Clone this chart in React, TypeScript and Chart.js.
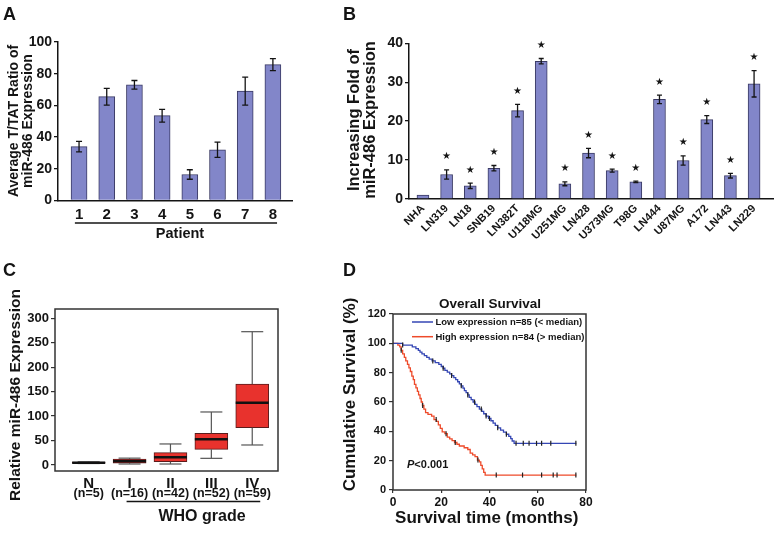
import React, { useEffect, useRef } from 'react';
import { Chart, registerables } from 'chart.js';

Chart.register(...registerables);

const FONT = "'Liberation Sans', Arial, Helvetica, sans-serif";
const INK = '#141414';
const BAR_FILL = '#8286c9';
const BAR_EDGE = '#3a3a64';
const BOX_FILL = '#e8322d';
const BOX_EDGE = '#5a1c1c';
const LOW_COLOR = '#3446b4';
const HIGH_COLOR = '#ee4a2a';

// ---------------- Panel A ----------------
const patientLabels = ['1', '2', '3', '4', '5', '6', '7', '8'];
const patientRatio = [34, 65.5, 73, 53.5, 16.4, 32, 69, 85.7];
const patientError = [3.3, 5.3, 2.7, 4.0, 3.0, 4.8, 8.8, 3.8];
const patientTicks = [0, 20, 40, 60, 80, 100];

// ---------------- Panel B ----------------
const cellLines = ['NHA', 'LN319', 'LN18', 'SNB19', 'LN382T', 'U118MG', 'U251MG', 'LN428', 'U373MG', 'T98G', 'LN444', 'U87MG', 'A172', 'LN443', 'LN229'];
const cellFold = [1.0, 6.3, 3.4, 7.9, 22.7, 35.4, 3.9, 11.8, 7.3, 4.4, 25.6, 9.9, 20.4, 6.0, 29.6];
const cellError = [0, 1.2, 0.7, 0.7, 1.6, 0.7, 0.5, 1.2, 0.4, 0.2, 1.1, 1.2, 1.0, 0.6, 3.4];
const cellSignificant = [false, true, true, true, true, true, true, true, true, true, true, true, true, true, true];
const foldTicks = [0, 10, 20, 30, 40];

// ---------------- Panel C ----------------
const gradeLabels = ['N', 'I', 'II', 'III', 'IV'];
const gradeCounts = ['(n=5)', '(n=16)', '(n=42)', '(n=52)', '(n=59)'];
const boxMin = [3, 2, 2, 13.6, 40.9];
const boxQ1 = [3.5, 3.5, 6.8, 32, 76.3];
const boxMedian = [4.7, 7.5, 15.7, 52.5, 127.4];
const boxQ3 = [6, 12.3, 25.2, 64.8, 165.6];
const boxMax = [6.5, 14, 43, 108.4, 272.6];
const expressionTicks = [0, 50, 100, 150, 200, 250, 300];

// ---------------- Panel D ----------------
const lowTime = [0, 4.0, 8.0, 9.5, 10.5, 11.2, 12.0, 13.0, 14.0, 15.0, 16.2, 17.5, 19.0, 20.0, 20.8, 21.5, 22.5, 23.5, 24.3, 25.2, 26.0, 26.8, 27.5, 28.3, 29.0, 29.6, 30.3, 31.0, 31.6, 32.4, 33.2, 34.0, 34.8, 35.8, 36.8, 37.6, 38.6, 39.6, 40.6, 41.5, 42.4, 43.4, 44.6, 45.8, 47.0, 48.0, 48.8, 49.4, 50.2, 76];
const lowSurvival = [100, 98.8, 97.6, 96.4, 95.2, 94.0, 92.8, 91.6, 90.4, 89.2, 88.0, 86.8, 85.6, 84.2, 83.0, 81.6, 80.4, 79.2, 78.0, 76.6, 75.2, 73.8, 72.4, 71.0, 69.4, 67.8, 66.4, 64.8, 63.2, 61.6, 60.0, 58.4, 56.8, 55.2, 53.6, 52.0, 50.4, 48.8, 47.2, 45.6, 44.0, 42.4, 40.8, 39.4, 38.0, 36.6, 35.0, 33.4, 31.8, 31.8];
const highTime = [0, 2.0, 2.8, 3.4, 4.0, 4.7, 5.3, 6.0, 6.6, 7.2, 7.8, 8.4, 8.9, 9.5, 10.1, 10.6, 11.2, 11.7, 12.2, 12.8, 13.5, 14.5, 16.0, 17.0, 18.0, 18.8, 19.6, 20.4, 21.5, 22.5, 23.5, 24.5, 25.5, 26.5, 27.5, 29.5, 31.0, 32.0, 33.0, 34.0, 35.0, 35.8, 36.4, 37.0, 37.6, 38.2, 76];
const highSurvival = [100, 98.8, 97.6, 95.2, 92.8, 90.4, 88.0, 85.6, 83.2, 80.8, 77.6, 75.2, 72.0, 69.6, 67.2, 64.8, 62.4, 60.0, 57.6, 55.2, 52.8, 51.6, 50.4, 48.0, 46.8, 44.4, 42.0, 39.6, 38.4, 36.0, 34.8, 33.6, 32.4, 31.2, 30.0, 28.8, 27.6, 25.2, 24.0, 22.8, 20.4, 19.2, 16.8, 14.4, 12.0, 10.2, 10.2];
const lowCensorTime = [4.0, 16.5, 20.8, 24.3, 28.3, 31.0, 33.8, 36.6, 38.6, 40.0, 43.4, 47.0, 51.0, 54.0, 56.4, 59.5, 61.6, 65.4, 75.8];
const lowCensorSurvival = [98.8, 88.0, 83.0, 78.0, 71.0, 64.8, 60.0, 55.2, 50.4, 48.8, 42.4, 38.0, 31.8, 31.8, 31.8, 31.8, 31.8, 31.8, 31.8];
const highCensorTime = [3.4, 12.3, 17.9, 22.0, 25.8, 35.2, 42.8, 53.7, 61.6, 66.4, 68.0, 75.8];
const highCensorSurvival = [95.2, 57.6, 48.0, 38.4, 32.4, 20.4, 10.2, 10.2, 10.2, 10.2, 10.2, 10.2];
const monthTicks = [0, 20, 40, 60, 80];
const survivalTicks = [0, 20, 40, 60, 80, 100, 120];

// ---------------- helpers ----------------
type TextOpts = {
  size: number;
  align?: CanvasTextAlign;
  baseline?: CanvasTextBaseline;
  rotate?: number;
  italic?: boolean;
  color?: string;
};

function drawText(ctx: CanvasRenderingContext2D, text: string, x: number, y: number, o: TextOpts) {
  ctx.save();
  ctx.translate(x, y);
  if (o.rotate) ctx.rotate(o.rotate);
  ctx.font = `${o.italic ? 'italic ' : ''}bold ${o.size}px ${FONT}`;
  ctx.fillStyle = o.color ?? INK;
  ctx.textAlign = o.align ?? 'center';
  ctx.textBaseline = o.baseline ?? 'middle';
  ctx.fillText(text, 0, 0);
  ctx.restore();
}

function line(ctx: CanvasRenderingContext2D, x1: number, y1: number, x2: number, y2: number, color: string, width: number) {
  ctx.save();
  ctx.strokeStyle = color;
  ctx.lineWidth = width;
  ctx.beginPath();
  ctx.moveTo(x1, y1);
  ctx.lineTo(x2, y2);
  ctx.stroke();
  ctx.restore();
}

const fixedTicks = (values: number[]) => (scale: any) => {
  scale.ticks = values.map((v) => ({ value: v }));
};

const boldFont = (size: number) => ({ family: FONT, size, weight: 'bold' as const });

function errorBarPlugin(values: number[], errors: number[], xOf: (i: number) => number, cap: number) {
  return {
    id: 'errorBars',
    afterDatasetsDraw(chart: any) {
      const { ctx, scales } = chart;
      const xs = scales.x;
      const ys = scales.y;
      ctx.save();
      ctx.strokeStyle = INK;
      ctx.lineWidth = 1.3;
      values.forEach((v, i) => {
        const e = errors[i];
        if (!e) return;
        const px = xs.getPixelForValue(xOf(i));
        const top = ys.getPixelForValue(v + e);
        const bot = ys.getPixelForValue(v - e);
        ctx.beginPath();
        ctx.moveTo(px, top);
        ctx.lineTo(px, bot);
        ctx.moveTo(px - cap, top);
        ctx.lineTo(px + cap, top);
        ctx.moveTo(px - cap, bot);
        ctx.lineTo(px + cap, bot);
        ctx.stroke();
      });
      ctx.restore();
    },
  };
}

const baseOptions = {
  responsive: false,
  animation: false,
  events: [] as string[],
};

// ---------------- Panel A config ----------------
function makeA(): any {
  return {
    type: 'bar',
    data: {
      datasets: [
        {
          data: patientRatio.map((v, i) => ({ x: i + 1, y: v })),
          backgroundColor: BAR_FILL,
          borderColor: BAR_EDGE,
          borderWidth: 1,
          barThickness: 16,
        },
      ],
    },
    options: {
      ...baseOptions,
      layout: { padding: { left: 0, top: 42, right: 43, bottom: 0 } },
      plugins: { legend: { display: false }, tooltip: { enabled: false } },
      scales: {
        x: {
          type: 'linear',
          min: 0.24,
          max: 8.69,
          offset: false,
          afterBuildTicks: (s: any) => {
            s.ticks = patientLabels.map((_, i) => ({ value: i + 1 }));
          },
          afterFit: (s: any) => {
            s.height = 61.5;
          },
          ticks: {
            callback: (v: number) => patientLabels[Math.round(v) - 1],
            font: boldFont(15),
            color: INK,
            padding: 5,
            maxRotation: 0,
            autoSkip: false,
          },
          grid: { display: false, drawTicks: false, tickLength: 0, offset: false },
          border: { color: INK, width: 1.5 },
        },
        y: {
          min: 0,
          max: 100,
          afterBuildTicks: fixedTicks(patientTicks),
          afterFit: (s: any) => {
            s.width = 58;
          },
          ticks: { font: boldFont(14), color: INK, padding: 2 },
          grid: { drawOnChartArea: false, tickLength: 4, color: INK, lineWidth: 1.3 },
          border: { color: INK, width: 1.5 },
        },
      },
    },
    plugins: [
      errorBarPlugin(patientRatio, patientError, (i) => i + 1, 3),
      {
        id: 'textA',
        afterDraw(chart: any) {
          const { ctx } = chart;
          const xs = chart.scales.x;
          drawText(ctx, 'A', 3, 20, { size: 18, align: 'left', baseline: 'alphabetic' });
          drawText(ctx, 'Average T/TAT Ratio of', 14, 121, { size: 14, rotate: -Math.PI / 2 });
          drawText(ctx, 'miR-486 Expression', 28, 121, { size: 14, rotate: -Math.PI / 2 });
          line(ctx, xs.getPixelForValue(0.85), 223, xs.getPixelForValue(8.15), 223, INK, 1.3);
          drawText(ctx, 'Patient', 180, 237.5, { size: 14.5, baseline: 'alphabetic' });
        },
      },
    ],
  };
}

// ---------------- Panel B config ----------------
function makeB(): any {
  return {
    type: 'bar',
    data: {
      datasets: [
        {
          data: cellFold.map((v, i) => ({ x: i, y: v })),
          backgroundColor: BAR_FILL,
          borderColor: BAR_EDGE,
          borderWidth: 1,
          barThickness: 12,
        },
      ],
    },
    options: {
      ...baseOptions,
      layout: { padding: { left: 0, top: 43.3, right: 4, bottom: 0 } },
      plugins: { legend: { display: false }, tooltip: { enabled: false } },
      scales: {
        x: {
          type: 'linear',
          min: -0.59,
          max: 14.8,
          offset: false,
          afterBuildTicks: (s: any) => {
            s.ticks = cellLines.map((_, i) => ({ value: i }));
          },
          afterFit: (s: any) => {
            s.height = 63;
          },
          ticks: {
            callback: (v: number) => cellLines[Math.round(v)],
            font: boldFont(11),
            color: INK,
            padding: 3,
            minRotation: 45,
            maxRotation: 45,
            autoSkip: false,
          },
          grid: { display: false, drawTicks: false, tickLength: 0, offset: false },
          border: { color: INK, width: 1.5 },
        },
        y: {
          min: 0,
          max: 40,
          afterBuildTicks: fixedTicks(foldTicks),
          afterFit: (s: any) => {
            s.width = 74;
          },
          ticks: { font: boldFont(14), color: INK, padding: 2 },
          grid: { drawOnChartArea: false, tickLength: 4, color: INK, lineWidth: 1.3 },
          border: { color: INK, width: 1.5 },
        },
      },
    },
    plugins: [
      errorBarPlugin(cellFold, cellError, (i) => i, 2.5),
      {
        id: 'textB',
        afterDraw(chart: any) {
          const { ctx } = chart;
          const xs = chart.scales.x;
          const ys = chart.scales.y;
          drawText(ctx, 'B', 8, 20, { size: 18, align: 'left', baseline: 'alphabetic' });
          drawText(ctx, 'Increasing Fold of', 19, 120, { size: 16.5, rotate: -Math.PI / 2 });
          drawText(ctx, 'miR-486 Expression', 35, 120, { size: 16.5, rotate: -Math.PI / 2 });
          cellFold.forEach((v, i) => {
            if (!cellSignificant[i]) return;
            const px = xs.getPixelForValue(i);
            const py = ys.getPixelForValue(v + cellError[i]) - 13;
            ctx.save();
            ctx.font = `10px 'DejaVu Sans', sans-serif`;
            ctx.fillStyle = INK;
            ctx.textAlign = 'center';
            ctx.textBaseline = 'middle';
            ctx.fillText('\u2605', px, py);
            ctx.restore();
          });
        },
      },
    ],
  };
}

// ---------------- Panel C config ----------------
function makeC(): any {
  return {
    type: 'bar',
    data: {
      datasets: [
        {
          data: gradeLabels.map((_, i) => ({ x: i, y: [boxQ1[i], boxQ3[i]] })),
          backgroundColor: BOX_FILL,
          borderColor: BOX_EDGE,
          borderWidth: 1,
          borderSkipped: false,
          barThickness: 33,
        },
      ],
    },
    options: {
      ...baseOptions,
      layout: { padding: { left: 0, top: 47, right: 57, bottom: 0 } },
      plugins: { legend: { display: false }, tooltip: { enabled: false } },
      scales: {
        x: {
          type: 'linear',
          min: -0.824,
          max: 4.63,
          offset: false,
          afterBuildTicks: (s: any) => {
            s.ticks = gradeLabels.map((_, i) => ({ value: i }));
          },
          afterFit: (s: any) => {
            s.height = 65;
          },
          ticks: { display: false },
          grid: { display: false, drawTicks: false, offset: false },
          border: { display: false },
        },
        y: {
          min: -12.3,
          max: 319,
          afterBuildTicks: fixedTicks(expressionTicks),
          afterFit: (s: any) => {
            s.width = 55;
          },
          ticks: { font: boldFont(13), color: INK, padding: 2 },
          grid: { drawOnChartArea: false, tickLength: 4, color: '#333', lineWidth: 1.2 },
          border: { display: false },
        },
      },
    },
    plugins: [
      {
        id: 'boxParts',
        afterDatasetsDraw(chart: any) {
          const { ctx } = chart;
          const xs = chart.scales.x;
          const ys = chart.scales.y;
          gradeLabels.forEach((_, i) => {
            const px = xs.getPixelForValue(i);
            const yMin = ys.getPixelForValue(boxMin[i]);
            const yQ1 = ys.getPixelForValue(boxQ1[i]);
            const yQ3 = ys.getPixelForValue(boxQ3[i]);
            const yMax = ys.getPixelForValue(boxMax[i]);
            const yMed = ys.getPixelForValue(boxMedian[i]);
            line(ctx, px, yQ3, px, yMax, '#555', 1.2);
            line(ctx, px, yQ1, px, yMin, '#555', 1.2);
            line(ctx, px - 11, yMax, px + 11, yMax, '#555', 1.2);
            line(ctx, px - 11, yMin, px + 11, yMin, '#555', 1.2);
            line(ctx, px - 16.5, yMed, px + 16.5, yMed, '#111', 2.4);
          });
        },
      },
      {
        id: 'textC',
        afterDraw(chart: any) {
          const { ctx, chartArea } = chart;
          const xs = chart.scales.x;
          ctx.save();
          ctx.strokeStyle = '#333';
          ctx.lineWidth = 1.5;
          ctx.strokeRect(chartArea.left, chartArea.top, chartArea.right - chartArea.left, chartArea.bottom - chartArea.top);
          ctx.restore();
          drawText(ctx, 'C', 3, 14, { size: 18, align: 'left', baseline: 'alphabetic' });
          drawText(ctx, 'Relative miR-486 Expression', 16, 133, { size: 15.5, rotate: -Math.PI / 2 });
          gradeLabels.forEach((g, i) => {
            const px = xs.getPixelForValue(i);
            drawText(ctx, g, px, 222, { size: 15 });
            drawText(ctx, gradeCounts[i], px, 232, { size: 12.5 });
          });
          line(ctx, xs.getPixelForValue(1) - 3, 239.5, xs.getPixelForValue(4) + 8, 239.5, INK, 1.3);
          drawText(ctx, 'WHO grade', 202, 258.5, { size: 16, baseline: 'alphabetic' });
        },
      },
    ],
  };
}

// ---------------- Panel D config ----------------
function makeD(): any {
  const censorStyle = {
    showLine: false,
    pointStyle: 'line',
    rotation: 90,
    pointRadius: 2.5,
    pointBorderColor: '#222',
    pointBorderWidth: 1.2,
    pointBackgroundColor: '#222',
  };
  return {
    type: 'line',
    data: {
      datasets: [
        { ...censorStyle, data: lowCensorTime.map((t, i) => ({ x: t, y: lowCensorSurvival[i] })) },
        { ...censorStyle, data: highCensorTime.map((t, i) => ({ x: t, y: highCensorSurvival[i] })) },
        {
          label: 'Low expression n=85 (< median)',
          data: lowTime.map((t, i) => ({ x: t, y: lowSurvival[i] })),
          borderColor: LOW_COLOR,
          borderWidth: 1.3,
          stepped: true,
          pointRadius: 0,
          fill: false,
        },
        {
          label: 'High expression n=84 (> median)',
          data: highTime.map((t, i) => ({ x: t, y: highSurvival[i] })),
          borderColor: HIGH_COLOR,
          borderWidth: 1.3,
          stepped: true,
          pointRadius: 0,
          fill: false,
        },
      ],
    },
    options: {
      ...baseOptions,
      layout: { padding: { left: 0, top: 52, right: 191, bottom: 0 } },
      plugins: { legend: { display: false }, tooltip: { enabled: false } },
      scales: {
        x: {
          type: 'linear',
          min: 0,
          max: 80,
          afterBuildTicks: fixedTicks(monthTicks),
          afterFit: (s: any) => {
            s.height = 46;
          },
          ticks: { font: boldFont(12), color: INK, padding: 2, maxRotation: 0 },
          grid: { drawOnChartArea: false, tickLength: 3, color: '#333', lineWidth: 1.2 },
          border: { display: false },
        },
        y: {
          min: 0,
          max: 120,
          afterBuildTicks: fixedTicks(survivalTicks),
          afterFit: (s: any) => {
            s.width = 58;
          },
          ticks: { font: boldFont(11), color: INK, padding: 3 },
          grid: { drawOnChartArea: false, tickLength: 4, color: '#333', lineWidth: 1.2 },
          border: { display: false },
        },
      },
    },
    plugins: [
      {
        id: 'textD',
        afterDraw(chart: any) {
          const { ctx, chartArea } = chart;
          ctx.save();
          ctx.strokeStyle = '#333';
          ctx.lineWidth = 1.5;
          ctx.strokeRect(chartArea.left, chartArea.top, chartArea.right - chartArea.left, chartArea.bottom - chartArea.top);
          ctx.restore();
          drawText(ctx, 'D', 8, 14, { size: 18, align: 'left', baseline: 'alphabetic' });
          drawText(ctx, 'Cumulative Survival (%)', 15, 132.5, { size: 17, rotate: -Math.PI / 2 });
          drawText(ctx, 'Survival time (months)', 151.7, 261.3, { size: 17, baseline: 'alphabetic' });
          drawText(ctx, 'Overall Survival', 155, 46, { size: 13.5, baseline: 'alphabetic' });
          line(ctx, 77, 60, 98, 60, LOW_COLOR, 1.5);
          drawText(ctx, chart.data.datasets[2].label, 100.5, 60.5, { size: 9.5, align: 'left' });
          line(ctx, 77, 74.7, 98, 74.7, HIGH_COLOR, 1.5);
          drawText(ctx, chart.data.datasets[3].label, 100.5, 75, { size: 9.5, align: 'left' });
          ctx.save();
          ctx.font = `italic bold 11px ${FONT}`;
          const pw = ctx.measureText('P').width;
          ctx.restore();
          drawText(ctx, 'P', 72, 203, { size: 11, align: 'left', italic: true });
          drawText(ctx, '<0.001', 72 + pw, 203, { size: 11, align: 'left' });
        },
      },
    ],
  };
}

function ChartCanvas(props: { left: number; top: number; width: number; height: number; make: () => any }) {
  const ref = useRef<HTMLCanvasElement>(null);
  useEffect(() => {
    const chart = new Chart(ref.current as HTMLCanvasElement, props.make());
    return () => chart.destroy();
  }, []);
  const { left, top, width, height } = props;
  return (
    <canvas
      ref={ref}
      width={width}
      height={height}
      style={{ position: 'absolute', left, top, width, height, display: 'block' }}
    />
  );
}

export default function App() {
  return (
    <div style={{ position: 'fixed', left: 0, top: 0, width: 777, height: 536, background: '#fff', overflow: 'hidden' }}>
      <ChartCanvas left={0} top={0} width={335} height={262} make={makeA} />
      <ChartCanvas left={335} top={0} width={442} height={262} make={makeB} />
      <ChartCanvas left={0} top={262} width={335} height={274} make={makeC} />
      <ChartCanvas left={335} top={262} width={442} height={274} make={makeD} />
    </div>
  );
}
